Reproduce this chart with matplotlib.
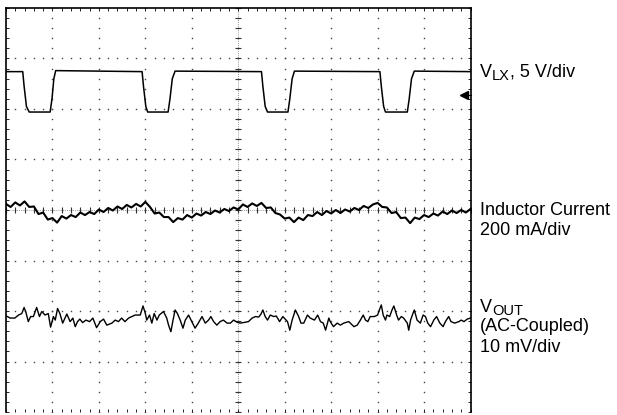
import numpy as np
import matplotlib
matplotlib.use("Agg")
import matplotlib.pyplot as plt
from matplotlib.transforms import offset_copy

plt.rcParams['font.family'] = ['Liberation Sans', 'DejaVu Sans']

# scope traces, x and y in divisions (10 x 8 screen)
vlx_t = [0, 0.36, 0.39, 0.44, 0.50, 0.95, 0.99, 1.03, 1.07,
         2.93, 2.96, 3.01, 3.05, 3.49, 3.53, 3.58, 3.64,
         5.50, 5.53, 5.58, 5.63, 6.07, 6.11, 6.16, 6.21,
         8.05, 8.08, 8.13, 8.17, 8.64, 8.68, 8.73, 8.79, 10.0]
vlx_v = [6.74, 6.74, 6.45, 6.05, 5.94, 5.94, 6.20, 6.60, 6.76,
         6.74, 6.45, 6.05, 5.94, 5.94, 6.20, 6.60, 6.75,
         6.74, 6.45, 6.05, 5.94, 5.94, 6.20, 6.60, 6.75,
         6.74, 6.45, 6.05, 5.94, 5.94, 6.20, 6.60, 6.75, 6.74]

il_t = np.arange(0, 10.01, 0.1)
il_v = [4.12, 4.06, 4.15, 4.09, 4.17, 4.06, 4.07, 3.92, 3.95, 3.81,
        3.84, 3.75, 3.88, 3.83, 3.90, 3.86, 3.95, 3.90, 3.96, 3.92,
        4.01, 3.96, 4.04, 3.99, 4.07, 4.02, 4.10, 4.05, 4.12, 4.07,
        4.16, 4.06, 3.93, 3.95, 3.86, 3.86, 3.76, 3.84, 3.81, 3.90,
        3.85, 3.93, 3.89, 3.96, 3.92, 3.99, 3.95, 4.02, 3.98, 4.05,
        4.01, 4.11, 4.06, 4.13, 4.08, 4.14, 4.04, 4.05, 3.94, 3.91,
        3.83, 3.85, 3.76, 3.85, 3.80, 3.90, 3.88, 3.96, 3.90, 3.98,
        3.93, 4.00, 3.94, 4.01, 3.97, 4.04, 4.00, 4.08, 4.04, 4.11,
        4.14, 4.06, 4.05, 3.94, 3.96, 3.84, 3.85, 3.74, 3.85, 3.82,
        3.90, 3.86, 3.93, 3.89, 3.97, 3.92, 3.99, 3.94, 4.00, 3.95,
        4.02]

vout_t = [0.01, 0.09, 0.19, 0.27, 0.34, 0.39, 0.43, 0.48, 0.53, 0.59,
          0.66, 0.72, 0.77, 0.84, 0.91, 0.96, 1.02, 1.06, 1.11, 1.16,
          1.22, 1.27, 1.31, 1.38, 1.44, 1.49, 1.54, 1.59, 1.65, 1.72,
          1.80, 1.87, 1.95, 2.03, 2.10, 2.17, 2.28, 2.35, 2.42, 2.49,
          2.56, 2.64, 2.71, 2.78, 2.89, 2.95, 3.00, 3.03, 3.09, 3.14,
          3.19, 3.25, 3.30, 3.39, 3.46, 3.50, 3.55, 3.59, 3.64, 3.69,
          3.75, 3.81, 3.86, 3.93, 4.00, 4.07, 4.14, 4.22, 4.29, 4.36,
          4.41, 4.47, 4.54, 4.61, 4.68, 4.76, 4.83, 4.90, 4.97, 5.04,
          5.11, 5.22, 5.30, 5.37, 5.44, 5.49, 5.53, 5.58, 5.63, 5.69,
          5.76, 5.82, 5.89, 5.96, 6.01, 6.06, 6.11, 6.16, 6.23, 6.30,
          6.35, 6.41, 6.49, 6.55, 6.64, 6.71, 6.77, 6.83, 6.88, 6.95,
          6.98, 7.05, 7.13, 7.20, 7.27, 7.38, 7.49, 7.56, 7.63, 7.69,
          7.74, 7.79, 7.84, 7.93, 8.00, 8.05, 8.08, 8.12, 8.17, 8.20,
          8.26, 8.31, 8.35, 8.41, 8.45, 8.51, 8.56, 8.64, 8.67, 8.71,
          8.76, 8.79, 8.85, 8.92, 8.98, 9.03, 9.08, 9.14, 9.21, 9.27,
          9.34, 9.41, 9.46, 9.53, 9.58, 9.66, 9.75, 9.80, 9.86, 9.93,
          10.0]
vout_v = [1.90, 1.86, 1.86, 1.92, 1.95, 2.07, 1.97, 1.79, 1.89, 1.89,
          2.07, 1.89, 1.99, 1.92, 1.95, 1.68, 1.89, 1.82, 2.05, 1.95,
          1.76, 1.86, 1.94, 1.79, 1.86, 1.69, 1.79, 1.84, 1.77, 1.82,
          1.79, 1.86, 1.67, 1.79, 1.84, 1.72, 1.76, 1.82, 1.79, 1.86,
          1.79, 1.86, 1.89, 1.92, 1.92, 2.10, 1.95, 1.82, 1.92, 1.76,
          1.95, 1.82, 1.92, 1.99, 1.86, 1.72, 1.59, 1.79, 2.02, 1.95,
          1.82, 1.66, 1.82, 1.92, 1.79, 1.66, 1.76, 1.89, 1.76, 1.82,
          1.89, 1.79, 1.72, 1.79, 1.82, 1.76, 1.76, 1.82, 1.78, 1.76,
          1.77, 1.79, 1.86, 1.89, 1.88, 1.94, 2.02, 1.89, 1.82, 1.92,
          1.89, 1.90, 1.79, 1.89, 1.84, 1.79, 1.62, 1.82, 2.02, 1.89,
          1.76, 1.76, 1.92, 1.86, 1.82, 1.92, 1.79, 1.76, 1.62, 1.86,
          1.79, 1.69, 1.76, 1.72, 1.76, 1.79, 1.69, 1.72, 1.82, 1.92,
          1.82, 1.79, 1.89, 1.89, 1.92, 2.05, 2.12, 1.92, 1.82, 1.92,
          1.89, 2.02, 2.10, 1.92, 1.82, 1.89, 1.86, 1.76, 1.62, 1.82,
          1.95, 2.02, 1.82, 1.76, 1.92, 1.89, 1.76, 1.69, 1.82, 1.89,
          1.76, 1.69, 1.79, 1.89, 1.79, 1.76, 1.79, 1.82, 1.79, 1.84,
          1.86]

marker_pos = (9.86, 6.28)

fig = plt.figure(figsize=(6.17, 4.15), dpi=100)
ax = fig.add_axes([6/617, 3/415, 464.5/617, 404/415])
ax.set_xlim(0, 10)
ax.set_ylim(0, 8)

# dotted graticule
minor = np.arange(0, 10.01, 0.2)
minor_y = np.arange(0, 8.01, 0.2)
for gx in range(1, 10):
    ax.plot(np.full_like(minor_y, gx), minor_y, ls='none', marker='s',
            ms=1.0, mew=0, color='#444444', zorder=1)
for gy in range(1, 8):
    ax.plot(minor, np.full_like(minor, gy), ls='none', marker='s',
            ms=1.0, mew=0, color='#444444', zorder=1)

# center axes with small ticks
ax.axvline(5, color='#777777', lw=0.6, ls=(0, (1, 1.5)), zorder=1)
ax.axhline(4, color='#777777', lw=0.6, ls=(0, (1, 1.5)), zorder=1)
ax.plot(np.full_like(minor_y, 5), minor_y, ls='none', marker='_', ms=4,
        mew=0.8, color='#333333', zorder=1)
ax.plot(minor, np.full_like(minor, 4), ls='none', marker='|', ms=4,
        mew=0.8, color='#333333', zorder=1)

# traces
ax.plot(vlx_t, vlx_v, color='black', lw=1.1, zorder=3)
ax.plot(il_t, il_v, color='black', lw=1.5, zorder=3)
ax.plot(vout_t, vout_v, color='black', lw=1.0, zorder=3)

# ground marker
ax.plot([marker_pos[0], 10], [marker_pos[1], marker_pos[1]], color='black', lw=0.8,
        clip_on=False)
ax.plot(marker_pos[0], marker_pos[1], marker='<', ms=6, color='black',
        clip_on=False)

# frame and ticks
ax.set_xticks(np.arange(0, 10.01, 1))
ax.set_yticks(np.arange(0, 8.01, 1))
ax.set_xticks(minor, minor=True)
ax.set_yticks(minor_y, minor=True)
ax.tick_params(which='both', direction='in', length=2.5, width=0.7,
               top=True, right=True, left=True, bottom=True,
               labelbottom=False, labelleft=False, color='#222222')
for side in ['top', 'left', 'right']:
    ax.spines[side].set_linewidth(1.2)
ax.spines['bottom'].set_visible(False)

# channel labels
fs = 13
fs_sub = 10.5
lx = 480 / 617
renderer = fig.canvas.get_renderer()


def sub_label(y, main, sub, rest=''):
    t1 = fig.text(lx, y, main, fontsize=fs, va='baseline')
    w1 = t1.get_window_extent(renderer).width
    tr = offset_copy(fig.transFigure, fig=fig, x=w1, y=-3.5, units='dots')
    t2 = fig.text(lx, y, sub, fontsize=fs_sub, va='baseline', transform=tr)
    if rest:
        w2 = t2.get_window_extent(renderer).width
        tr2 = offset_copy(fig.transFigure, fig=fig, x=w1 + w2, y=0, units='dots')
        fig.text(lx, y, rest, fontsize=fs, va='baseline', transform=tr2)


sub_label(1 - 76.7/415, 'V', 'LX', ', 5 V/div')
fig.text(lx, 1 - 215/415, 'Inductor Current', fontsize=fs, va='baseline')
fig.text(lx, 1 - 235/415, '200 mA/div', fontsize=fs, va='baseline')
sub_label(1 - 311.7/415, 'V', 'OUT')
fig.text(lx, 1 - 330.7/415, '(AC-Coupled)', fontsize=fs, va='baseline')
fig.text(lx, 1 - 352.3/415, '10 mV/div', fontsize=fs, va='baseline')

fig.savefig('out.png', dpi=100)
